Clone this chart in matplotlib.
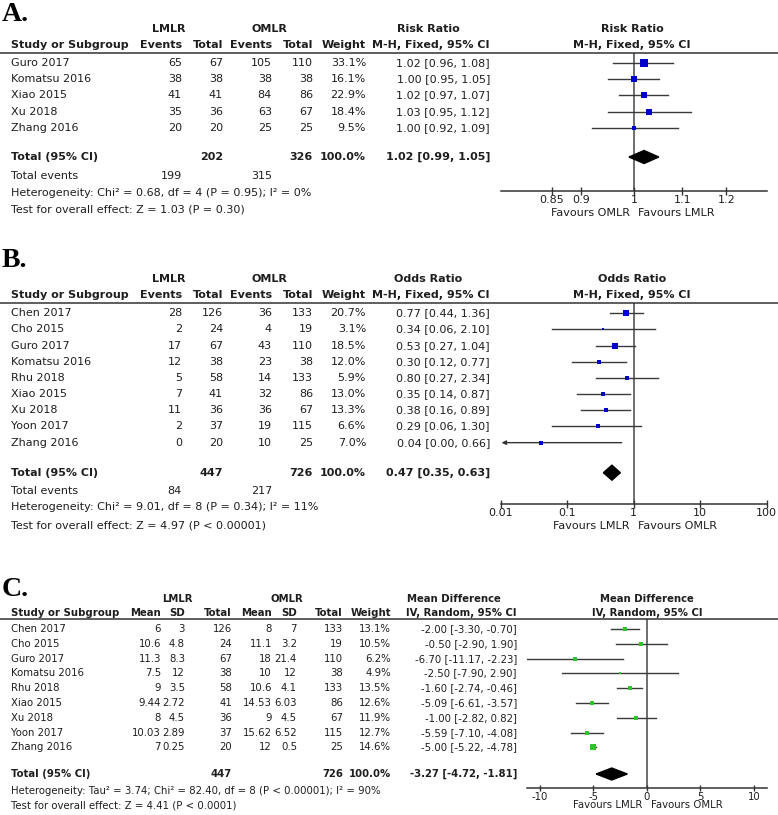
import numpy as np
import matplotlib.pyplot as plt
from matplotlib.lines import Line2D

plt.rcParams['font.family'] = ['DejaVu Sans']
plt.rcParams['axes.unicode_minus'] = False

# ---- panel A: risk ratio ----
studies_a = ['Guro 2017', 'Komatsu 2016', 'Xiao 2015', 'Xu 2018', 'Zhang 2016']
ev1_a = [65, 38, 41, 35, 20]
n1_a = [67, 38, 41, 36, 20]
ev2_a = [105, 38, 84, 63, 25]
n2_a = [110, 38, 86, 67, 25]
w_a = [33.1, 16.1, 22.9, 18.4, 9.5]
est_a = [1.02, 1.00, 1.02, 1.03, 1.00]
lo_a = [0.96, 0.95, 0.97, 0.95, 0.92]
hi_a = [1.08, 1.05, 1.07, 1.12, 1.09]
tot_a = (1.02, 0.99, 1.05)
ticks_a = [0.85, 0.9, 1, 1.1, 1.2]

# ---- panel B: odds ratio ----
studies_b = ['Chen 2017', 'Cho 2015', 'Guro 2017', 'Komatsu 2016', 'Rhu 2018',
             'Xiao 2015', 'Xu 2018', 'Yoon 2017', 'Zhang 2016']
ev1_b = [28, 2, 17, 12, 5, 7, 11, 2, 0]
n1_b = [126, 24, 67, 38, 58, 41, 36, 37, 20]
ev2_b = [36, 4, 43, 23, 14, 32, 36, 19, 10]
n2_b = [133, 19, 110, 38, 133, 86, 67, 115, 25]
w_b = [20.7, 3.1, 18.5, 12.0, 5.9, 13.0, 13.3, 6.6, 7.0]
est_b = [0.77, 0.34, 0.53, 0.30, 0.80, 0.35, 0.38, 0.29, 0.04]
lo_b = [0.44, 0.06, 0.27, 0.12, 0.27, 0.14, 0.16, 0.06, 0.00]
hi_b = [1.36, 2.10, 1.04, 0.77, 2.34, 0.87, 0.89, 1.30, 0.66]
tot_b = (0.47, 0.35, 0.63)
ticks_b = [0.01, 0.1, 1, 10, 100]

# ---- panel C: mean difference ----
studies_c = studies_b
m1_c = [6, 10.6, 11.3, 7.5, 9, 9.44, 8, 10.03, 7]
sd1_c = [3, 4.8, 8.3, 12, 3.5, 2.72, 4.5, 2.89, 0.25]
m2_c = [8, 11.1, 18, 10, 10.6, 14.53, 9, 15.62, 12]
sd2_c = [7, 3.2, 21.4, 12, 4.1, 6.03, 4.5, 6.52, 0.5]
n1_c = n1_b
n2_c = n2_b
w_c = [13.1, 10.5, 6.2, 4.9, 13.5, 12.6, 11.9, 12.7, 14.6]
est_c = [-2.00, -0.50, -6.70, -2.50, -1.60, -5.09, -1.00, -5.59, -5.00]
lo_c = [-3.30, -2.90, -11.17, -7.90, -2.74, -6.61, -2.82, -7.10, -5.22]
hi_c = [-0.70, 1.90, -2.23, 2.90, -0.46, -3.57, 0.82, -4.08, -4.78]
tot_c = (-3.27, -4.72, -1.81)
ticks_c = [-10, -5, 0, 5, 10]

W, H = 778, 815
fig = plt.figure(figsize=(W / 100, H / 100), dpi=100)
INK = '#1e1e1e'


def txt(x, y, s, ha='left', bold=False, size=8):
    fig.text(x / W, 1 - y / H, s, ha=ha, va='center', fontsize=size,
             fontweight='bold' if bold else 'normal', color=INK)


def hline(y):
    fig.add_artist(Line2D([0, 1], [1 - y / H] * 2, color='#333333', lw=1.1,
                          transform=fig.transFigure))


def letter(y, s):
    fig.text(2 / W, 1 - y / H, s, ha='left', va='baseline', fontsize=20,
             fontweight='bold', family='Liberation Serif', color='black')


def fmt(e, l, h):
    return f'{e:.2f} [{l:.2f}, {h:.2f}]'


def forest(box, xlim, log, ref, ticks, est, lo, hi, w, rows_y, color, k,
           tot, tot_y, dh, fav, size=8, tlen=6, fav_off=22):
    left, right, top, bottom = box
    ax = fig.add_axes([left / W, 1 - bottom / H, (right - left) / W, (bottom - top) / H])
    if log:
        ax.set_xscale('log')
    ax.set_xlim(*xlim)
    ax.set_ylim(bottom, top)
    ax.patch.set_alpha(0)
    for s in ['top', 'left', 'right']:
        ax.spines[s].set_visible(False)
    ax.spines['bottom'].set_color('#333333')
    ax.spines['bottom'].set_linewidth(1.1)
    ax.set_yticks([])
    ax.set_xticks(ticks)
    ax.set_xticks([], minor=True)
    ax.set_xticklabels([f'{t:g}' for t in ticks])
    ax.tick_params(axis='x', direction='inout', length=tlen, width=1,
                   color='#333333', labelsize=size, labelcolor=INK, pad=0)
    ax.axvline(ref, color='#555555', lw=1.2, zorder=1)
    for e, l, h, ww, y in zip(est, lo, hi, w, rows_y):
        if l <= 0 and log:
            # lower limit off the scale: arrow to the left edge
            ax.annotate('', xy=(xlim[0] * 1.03, y), xytext=(h, y),
                        arrowprops=dict(arrowstyle='-|>', color='#333333', lw=1,
                                        mutation_scale=6, shrinkA=0, shrinkB=0))
        else:
            ax.plot([l, h], [y, y], color='#3a3a3a', lw=1, zorder=2)
        ax.plot(e, y, 's', ms=k * np.sqrt(ww), color=color, mec=color, mew=0, zorder=3)
    e, l, h = tot
    ax.fill([l, e, h, e], [tot_y, tot_y - dh, tot_y, tot_y + dh], color='black', zorder=4)
    ax.annotate(fav[0], xy=(ref, 0), xycoords=('data', 'axes fraction'),
                xytext=(-4, -fav_off), textcoords='offset pixels', ha='right',
                va='center', fontsize=size, color=INK)
    ax.annotate(fav[1], xy=(ref, 0), xycoords=('data', 'axes fraction'),
                xytext=(4, -fav_off), textcoords='offset pixels', ha='left',
                va='center', fontsize=size, color=INK)
    return ax


def binary_panel(let, y_let, y_h1, y_line, y_row0, dy, y_tot, y_ev, y_het, y_test,
                 studies, ev1, n1, ev2, n2, w, est, lo, hi, tot, title, het, test,
                 box, xlim, ticks, fav, k, dh):
    letter(y_let, let)
    y_h2 = y_h1 + 16
    txt(169, y_h1, 'LMLR', 'center', True)
    txt(269, y_h1, 'OMLR', 'center', True)
    txt(428, y_h1, title, 'center', True)
    txt(632, y_h1, title, 'center', True)
    txt(11, y_h2, 'Study or Subgroup', 'left', True)
    for xr, s in [(182, 'Events'), (223, 'Total'), (272, 'Events'), (313, 'Total'),
                  (366, 'Weight'), (490, 'M-H, Fixed, 95% CI')]:
        txt(xr, y_h2, s, 'right', True)
    txt(632, y_h2, 'M-H, Fixed, 95% CI', 'center', True)
    hline(y_line)
    rows_y = [y_row0 + i * dy for i in range(len(studies))]
    for i, y in enumerate(rows_y):
        txt(11, y, studies[i])
        txt(182, y, str(ev1[i]), 'right')
        txt(223, y, str(n1[i]), 'right')
        txt(272, y, str(ev2[i]), 'right')
        txt(313, y, str(n2[i]), 'right')
        txt(366, y, f'{w[i]:.1f}%', 'right')
        txt(490, y, fmt(est[i], lo[i], hi[i]), 'right')
    txt(11, y_tot, 'Total (95% CI)', 'left', True)
    txt(223, y_tot, str(sum(n1)), 'right', True)
    txt(313, y_tot, str(sum(n2)), 'right', True)
    txt(366, y_tot, '100.0%', 'right', True)
    txt(490, y_tot, fmt(*tot), 'right', True)
    txt(11, y_ev, 'Total events')
    txt(182, y_ev, str(sum(ev1)), 'right')
    txt(272, y_ev, str(sum(ev2)), 'right')
    txt(11, y_het, het)
    txt(11, y_test, test)
    forest(box, xlim, True, 1, ticks, est, lo, hi, w, rows_y, '#0000c8', k,
           tot, y_tot, dh, fav)


binary_panel('A.', 21, 29, 53, 63, 16.2, 157, 176, 193, 209,
             studies_a, ev1_a, n1_a, ev2_a, n2_a, w_a, est_a, lo_a, hi_a, tot_a,
             'Risk Ratio',
             'Heterogeneity: Chi\u00b2 = 0.68, df = 4 (P = 0.95); I\u00b2 = 0%',
             'Test for overall effect: Z = 1.03 (P = 0.30)',
             (501, 767, 53, 191), (0.769, 1.30), ticks_a,
             ('Favours OMLR', 'Favours LMLR'), 1.0, 6.5)

binary_panel('B.', 267, 279, 303, 313.3, 16.17, 472.7, 490.7, 506.7, 525,
             studies_b, ev1_b, n1_b, ev2_b, n2_b, w_b, est_b, lo_b, hi_b, tot_b,
             'Odds Ratio',
             'Heterogeneity: Chi\u00b2 = 9.01, df = 8 (P = 0.34); I\u00b2 = 11%',
             'Test for overall effect: Z = 4.97 (P < 0.00001)',
             (500.7, 766.7, 303, 504), (0.01, 100), ticks_b,
             ('Favours LMLR', 'Favours OMLR'), 0.9, 7.5)

# ---- panel C ----
S = 7.3
letter(596, 'C.')
txt(177, 599, 'LMLR', 'center', True, S)
txt(287, 599, 'OMLR', 'center', True, S)
txt(454, 599, 'Mean Difference', 'center', True, S)
txt(647, 599, 'Mean Difference', 'center', True, S)
txt(11, 613, 'Study or Subgroup', 'left', True, S)
for xr, s in [(161, 'Mean'), (185, 'SD'), (232, 'Total'), (272, 'Mean'), (297, 'SD'),
              (343, 'Total'), (391, 'Weight'), (517, 'IV, Random, 95% CI')]:
    txt(xr, 613, s, 'right', True, S)
txt(647, 613, 'IV, Random, 95% CI', 'center', True, S)
hline(619)
rows_c = [629 + i * 14.8 for i in range(len(studies_c))]
for i, y in enumerate(rows_c):
    txt(11, y, studies_c[i], 'left', False, S)
    for xr, v in [(161, m1_c[i]), (185, sd1_c[i]), (232, n1_c[i]), (272, m2_c[i]),
                  (297, sd2_c[i]), (343, n2_c[i])]:
        txt(xr, y, f'{v:g}', 'right', False, S)
    txt(391, y, f'{w_c[i]:.1f}%', 'right', False, S)
    txt(517, y, fmt(est_c[i], lo_c[i], hi_c[i]), 'right', False, S)
txt(11, 774, 'Total (95% CI)', 'left', True, S)
txt(232, 774, str(sum(n1_c)), 'right', True, S)
txt(343, 774, str(sum(n2_c)), 'right', True, S)
txt(391, 774, '100.0%', 'right', True, S)
txt(517, 774, fmt(*tot_c), 'right', True, S)
txt(11, 790.7, 'Heterogeneity: Tau\u00b2 = 3.74; Chi\u00b2 = 82.40, df = 8 (P < 0.00001); I\u00b2 = 90%',
    'left', False, S)
txt(11, 806, 'Test for overall effect: Z = 4.41 (P < 0.0001)', 'left', False, S)
forest((526.7, 767.3, 619, 788.3), (-11.2, 11.25), False, 0, ticks_c,
       est_c, lo_c, hi_c, w_c, rows_c, '#2ec42e', 0.95, tot_c, 774, 6,
       ('Favours LMLR', 'Favours OMLR'), size=S, tlen=5, fav_off=17)

fig.savefig('out.png', dpi=100)
